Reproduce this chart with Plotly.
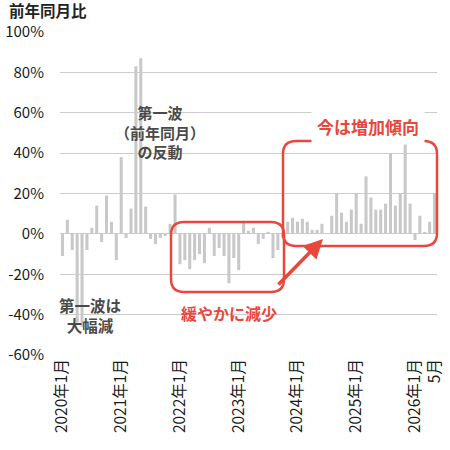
import plotly.graph_objects as go

# ---- data (year-over-year %, monthly 2020-01 .. 2026-05) ----
years = [2020, 2021, 2022, 2023, 2024, 2025, 2026]
vals_2020 = [-11, 7, -8, -44, -46, -8, 3, 14, -4, 19, 6, -13]
vals_2021 = [38, -2, 12.5, 83, 87, 13.5, -2.5, -5, -2, -1, 5, 19.5]
vals_2022 = [-15, -13, -17.5, -13, -10, -14.5, 3, -11, -7, -11, -24.5, -12]
vals_2023 = [-18, 6.5, 1.5, 3, -5, -2.5, 1, -12, -8, -2, 6, 8]
vals_2024 = [6, 7.5, 6, 2, 2, 5, 0, 9, 20, 10.5, 6, 12]
vals_2025 = [20, 5, 28.5, 18, 12, 12, 15, 40, 14, 20, 44.5, 15]
vals_2026 = [-3, 9, 1, 6, 20]
values = vals_2020 + vals_2021 + vals_2022 + vals_2023 + vals_2024 + vals_2025 + vals_2026

months = []
for y in years:
    for m in range(1, 13):
        if y == 2026 and m > 5:
            break
        months.append(f"{y}-{m:02d}")

tick_vals = [f"{y}-01" for y in years] + ["2026-05"]
tick_text = [f"{y}年1月" for y in years] + ["5月"]

y_ticks = [-60, -40, -20, 0, 20, 40, 60, 80, 100]

FONT = "Noto Sans CJK JP"
RED = "#e8473b"

# plot area in pixels
L, R, T, B = 60, 437, 32, 355


def px(x):
    return (x - L) / (R - L)


def py(y):
    return (B - y) / (B - T)


def rrect(x0, y0, x1, y1, r):
    # pixel coords (y0 top, y1 bottom) -> rounded rect path in paper coords
    rx = r / (R - L)
    ry = r / (B - T)
    X0, X1 = px(x0), px(x1)
    Yt, Yb = py(y0), py(y1)
    return (f"M {X0+rx},{Yt} L {X1-rx},{Yt} Q {X1},{Yt} {X1},{Yt-ry} "
            f"L {X1},{Yb+ry} Q {X1},{Yb} {X1-rx},{Yb} "
            f"L {X0+rx},{Yb} Q {X0},{Yb} {X0},{Yb+ry} "
            f"L {X0},{Yt-ry} Q {X0},{Yt} {X0+rx},{Yt} Z")


fig = go.Figure()
fig.add_trace(go.Bar(x=months, y=values, marker=dict(color="#c8c8c8", line=dict(width=0)),
                     showlegend=False))

fig.update_layout(
    width=450, height=450,
    margin=dict(l=L, r=450 - R, t=T, b=450 - B),
    paper_bgcolor="white", plot_bgcolor="white",
    bargap=0.38,
    font=dict(family=FONT, color="#222"),
    xaxis=dict(type="category", categoryorder="array", categoryarray=months,
               tickmode="array", tickvals=tick_vals, ticktext=tick_text,
               tickangle=-90, showgrid=False, zeroline=False,
               showline=False, ticks="", automargin=False,
               tickfont=dict(size=15.5, color="#1a1a1a", family=FONT)),
    yaxis=dict(range=[-60, 100], tickmode="array", tickvals=y_ticks,
               ticktext=[f"{v}%" for v in y_ticks],
               gridcolor="#cccccc", gridwidth=1, zeroline=True,
               zerolinecolor="#cccccc", zerolinewidth=1, showline=False,
               ticklabelstandoff=15, automargin=False,
               tickfont=dict(size=15, color="#1a1a1a", family=FONT)),
)

shapes = [
    dict(type="path", xref="paper", yref="paper", path=rrect(171, 222, 284, 292, 13),
         line=dict(color=RED, width=2.5)),
    dict(type="path", xref="paper", yref="paper", path=rrect(283, 141, 437, 246, 13),
         line=dict(color=RED, width=2.5)),
]
fig.update_layout(shapes=shapes)

ann = [
    dict(text="<b>前年同月比</b>", x=px(7), y=py(9.5), xanchor="left", yanchor="middle",
         font=dict(size=15.5, color="#222")),
    dict(text="<b>第一波<br>（前年同月）<br>の反動</b>", x=px(160), y=py(132), xanchor="center",
         yanchor="middle", font=dict(size=15, color="#4a4a4a")),
    dict(text="<b>第一波は<br>大幅減</b>", x=px(90), y=py(315), xanchor="center",
         yanchor="middle", font=dict(size=15.5, color="#4a4a4a")),
    dict(text="<b>緩やかに減少</b>", x=px(229), y=py(313), xanchor="center",
         yanchor="middle", font=dict(size=16, color=RED)),
    dict(text="<b>今は増加傾向</b>", x=px(368), y=py(126), xanchor="center",
         yanchor="middle", font=dict(size=17, color=RED), bgcolor="white", borderpad=5),
    dict(text="", x=px(323), y=py(239), ax=-46, ay=47, showarrow=True,
         arrowhead=2, arrowsize=1.1, arrowwidth=3.5, arrowcolor=RED, standoff=0),
]
for a in ann:
    a.setdefault("xref", "paper")
    a.setdefault("yref", "paper")
    a.setdefault("showarrow", False)
fig.update_layout(annotations=ann)

fig.write_html("out.html")
